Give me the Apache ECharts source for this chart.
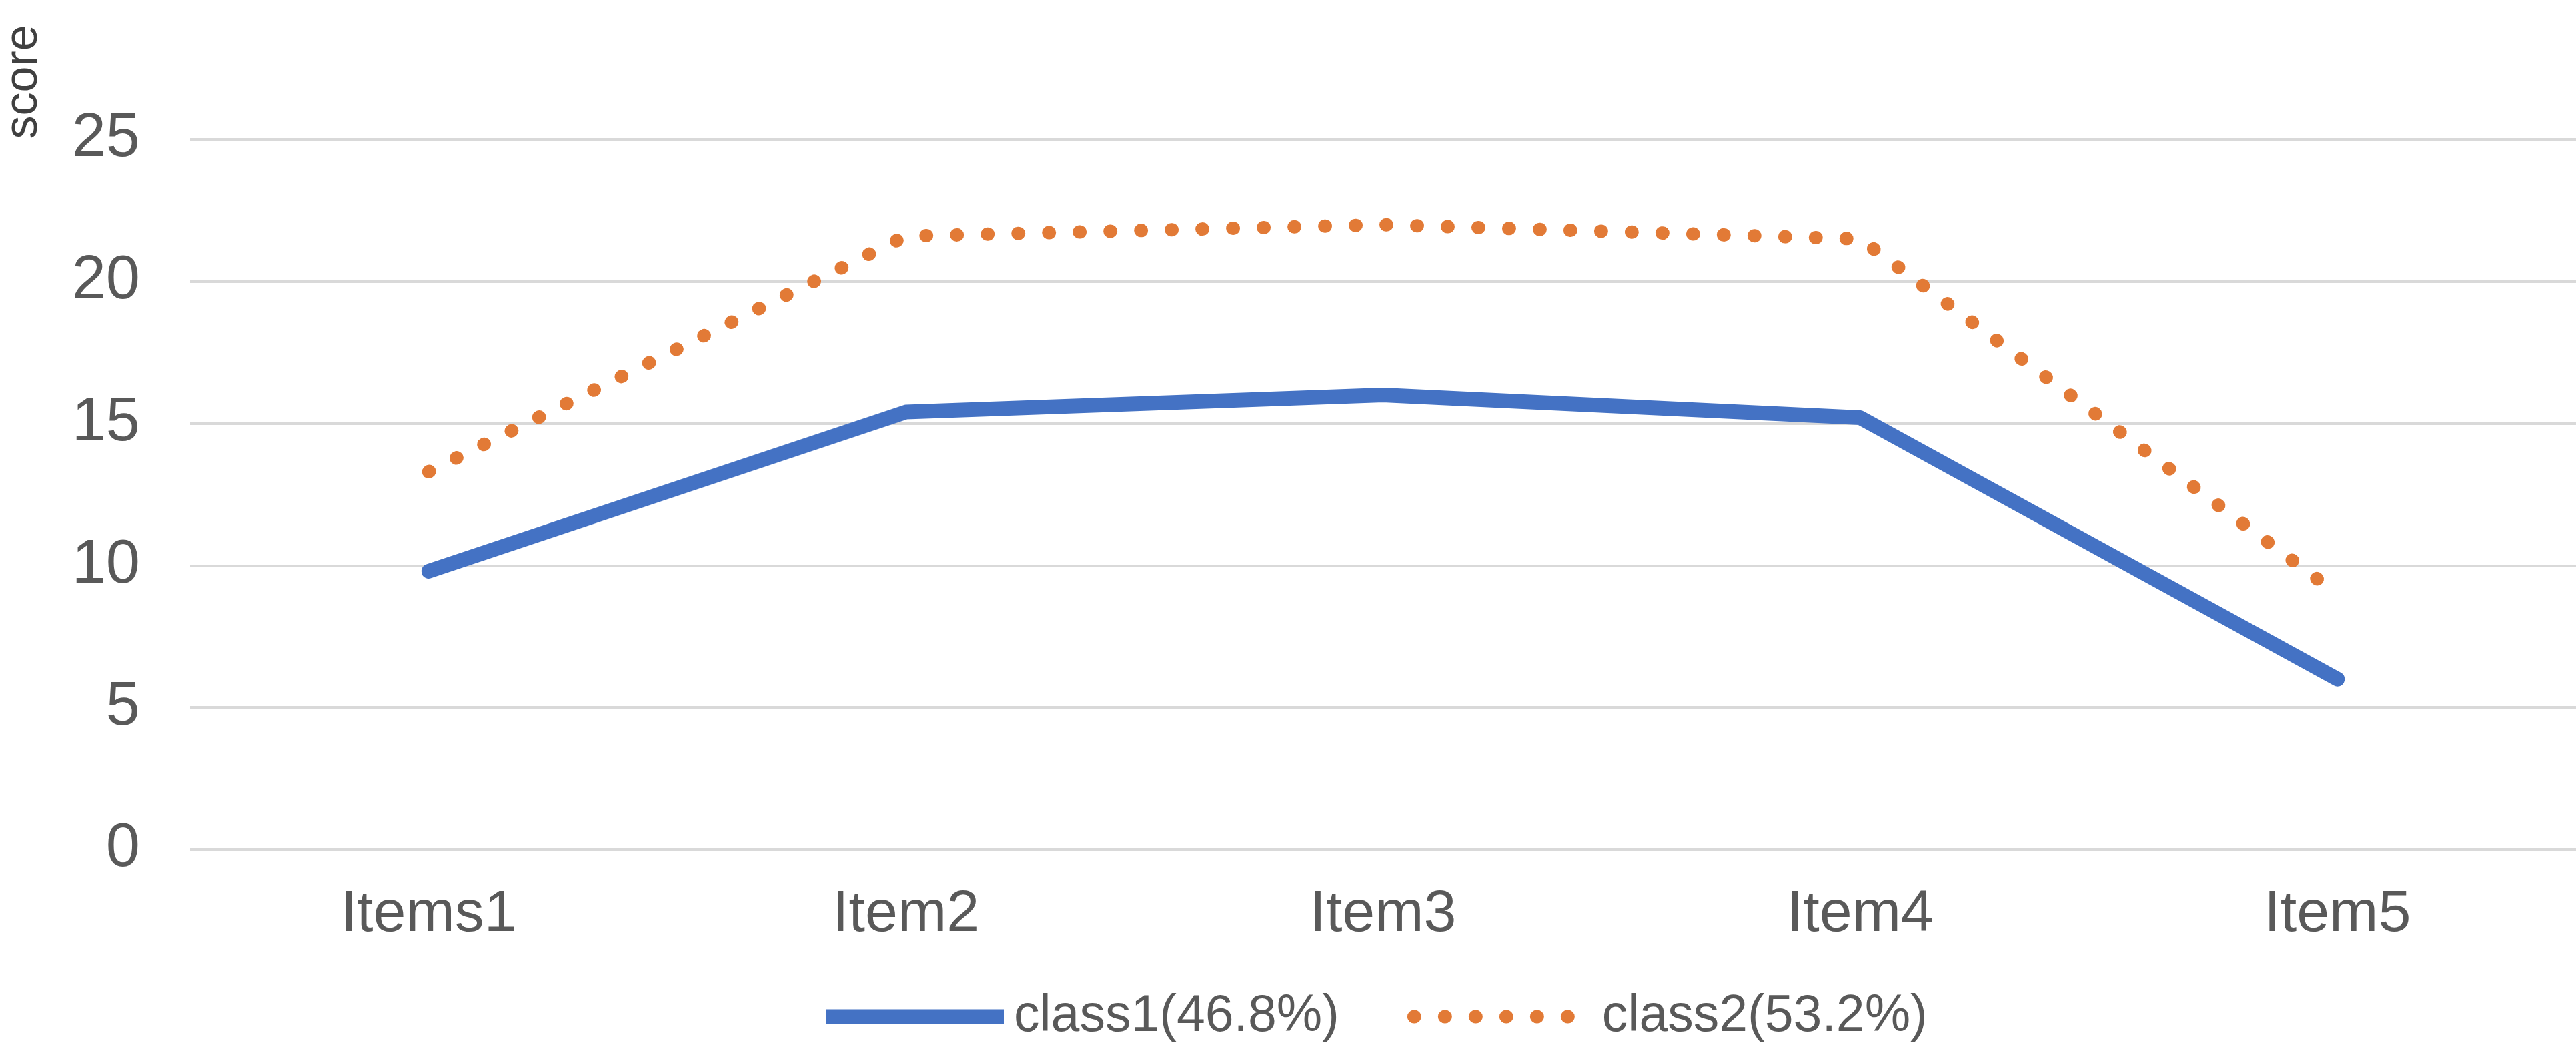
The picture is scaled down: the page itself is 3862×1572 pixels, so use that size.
<!DOCTYPE html>
<html>
<head>
<meta charset="utf-8">
<script src="https://cdn.jsdelivr.net/npm/echarts@6/dist/echarts.min.js"></script>
<style>
html,body{margin:0;padding:0;background:#fff;}
#chart{width:3862px;height:1572px;}
</style>
</head>
<body>
<div id="chart"></div>
<script>
const categories = ['Items1', 'Item2', 'Item3', 'Item4', 'Item5'];
const class1 = [9.8, 15.4, 16.0, 15.2, 6.0];
const class2 = [13.3, 21.6, 22.0, 21.5, 9.0];
const seriesNames = ['class1(46.8%)', 'class2(53.2%)'];
const yAxisName = 'score';

const FONT = "'Liberation Sans', Arial, sans-serif";
const BLUE = '#4472C4';
const ORANGE = '#E27A36';
const chart = echarts.init(document.getElementById('chart'), null, {renderer: 'canvas'});
chart.setOption({
  backgroundColor: '#ffffff',
  animation: false,
  graphic: [{
    type: 'text',
    x: 36, y: 123,
    rotation: Math.PI / 2,
    style: {text: yAxisName, fontFamily: FONT, fontSize: 70, fill: '#404040', align: 'center', verticalAlign: 'middle'}
  }],
  grid: {left: 285, top: 209, width: 3598, height: 1064, containLabel: false},
  legend: {
    left: 1222, top: 1480,
    itemWidth: 267, itemHeight: 40, itemGap: 102,
    itemStyle: {opacity: 0},
    textStyle: {fontFamily: FONT, fontSize: 77, color: '#595959', padding: [0, 0, 0, 10]},
    data: [
      {name: seriesNames[0], itemStyle: {opacity: 0}, lineStyle: {width: 22, color: BLUE, cap: 'butt'}},
      {name: seriesNames[1], itemStyle: {opacity: 0}, lineStyle: {width: 20, color: ORANGE, type: [1, 45], cap: 'round'}}
    ]
  },
  xAxis: {
    type: 'category',
    data: categories,
    boundaryGap: true,
    axisLine: {show: false},
    axisTick: {show: false},
    axisLabel: {fontFamily: FONT, fontSize: 88, color: '#595959', margin: 54}
  },
  yAxis: {
    type: 'value',
    min: 0, max: 25, interval: 5,
    axisLine: {show: false},
    axisTick: {show: false},
    axisLabel: {fontFamily: FONT, fontSize: 92, color: '#595959', margin: 75},
    splitLine: {show: true, lineStyle: {color: '#d9d9d9', width: 4}}
  },
  series: [
    {
      name: seriesNames[0], type: 'line', data: class1,
      symbol: 'none',
      lineStyle: {color: BLUE, width: 22, cap: 'round', join: 'round'},
      itemStyle: {color: BLUE}
    },
    {
      name: seriesNames[1], type: 'line', data: class2,
      symbol: 'none',
      lineStyle: {color: ORANGE, width: 20, type: [1, 45], cap: 'round', join: 'round'},
      itemStyle: {color: ORANGE}
    }
  ]
});
</script>
</body>
</html>
